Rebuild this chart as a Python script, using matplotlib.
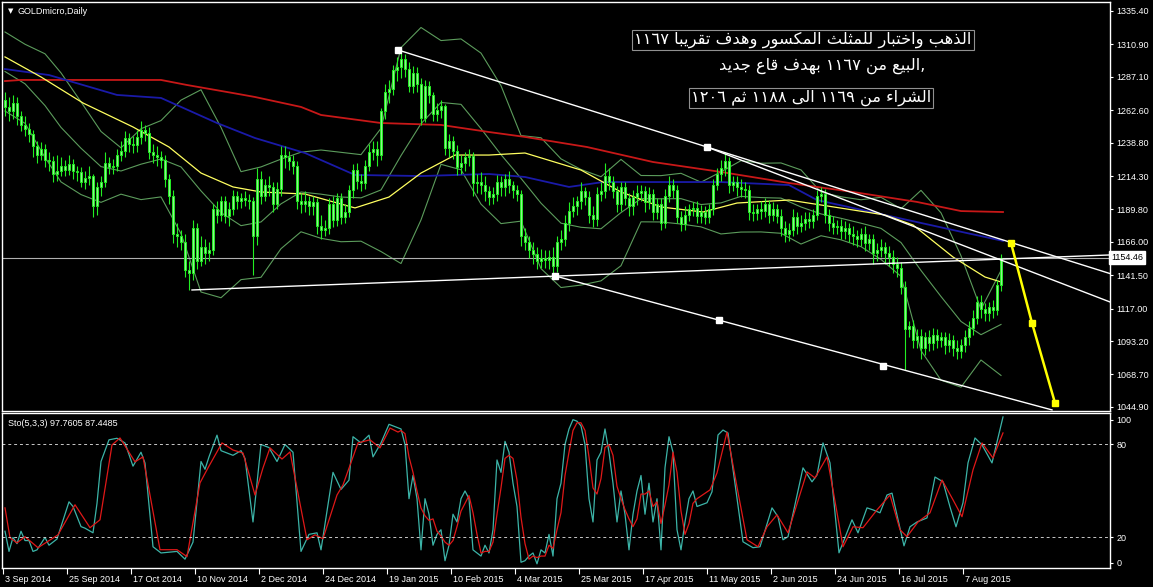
import numpy as np
import matplotlib.pyplot as plt

# %% data (bar index = trading day from 3 Sep 2014)
opens = [1270, 1265, 1262, 1268, 1258, 1252, 1249, 1245, 1236, 1230,
         1234, 1226, 1225, 1216, 1218, 1222, 1219, 1223, 1218, 1217,
         1210, 1213, 1214, 1192, 1206, 1210, 1224, 1221, 1222, 1230,
         1233, 1242, 1238, 1237, 1243, 1248, 1246, 1232, 1230, 1228,
         1226, 1212, 1200, 1172, 1170, 1166, 1145, 1143, 1176, 1152,
         1162, 1158, 1160, 1190, 1186, 1196, 1185, 1190, 1200, 1196,
         1198, 1197, 1196, 1170, 1212, 1200, 1208, 1206, 1194, 1205,
         1230, 1228, 1225, 1222, 1196, 1194, 1196, 1192, 1195, 1178,
         1175, 1176, 1194, 1182, 1198, 1184, 1188, 1204, 1219, 1211,
         1209, 1222, 1232, 1234, 1230, 1262, 1276, 1278, 1292, 1294,
         1300, 1293, 1280, 1290, 1282, 1257, 1280, 1274, 1260, 1263,
         1266, 1235, 1240, 1233, 1221, 1224, 1228, 1229, 1209, 1210,
         1208, 1203, 1199, 1201, 1210, 1206, 1212, 1208, 1204, 1201,
         1170, 1166, 1160, 1157, 1152, 1154, 1153, 1155, 1148, 1166,
         1168, 1180, 1189, 1192, 1196, 1203, 1199, 1186, 1183, 1201,
         1203, 1214, 1210, 1203, 1194, 1206, 1198, 1192, 1199, 1202,
         1203, 1195, 1201, 1188, 1194, 1180, 1200, 1208, 1204, 1184,
         1179, 1186, 1190, 1191, 1185, 1188, 1184, 1190, 1208, 1216,
         1220, 1225, 1208, 1210, 1206, 1205, 1204, 1188, 1187, 1190,
         1189, 1194, 1186, 1190, 1185, 1176, 1172, 1175, 1184, 1178,
         1180, 1183, 1181, 1186, 1200, 1201, 1186, 1180, 1177, 1178,
         1174, 1176, 1172, 1170, 1168, 1172, 1165, 1168, 1158, 1160,
         1162, 1158, 1155, 1150, 1147, 1133, 1102, 1104, 1094, 1097,
         1088, 1096, 1092, 1098, 1094, 1096, 1090, 1094, 1088, 1086,
         1090, 1096, 1103, 1110, 1122, 1117, 1114, 1118, 1116, 1134]
highs = [1276, 1272, 1274, 1272, 1262, 1258, 1253, 1248, 1240, 1239,
         1238, 1232, 1229, 1230, 1228, 1226, 1230, 1227, 1222, 1221,
         1218, 1222, 1216, 1210, 1214, 1232, 1228, 1227, 1234, 1240,
         1247, 1246, 1244, 1248, 1255, 1252, 1250, 1238, 1236, 1233,
         1230, 1216, 1204, 1180, 1175, 1172, 1152, 1182, 1180, 1170,
         1168, 1166, 1194, 1196, 1200, 1200, 1195, 1204, 1203, 1202,
         1203, 1201, 1199, 1220, 1218, 1212, 1214, 1210, 1210, 1236,
         1236, 1233, 1230, 1225, 1202, 1203, 1200, 1200, 1198, 1186,
         1182, 1198, 1200, 1202, 1202, 1194, 1208, 1223, 1224, 1216,
         1226, 1238, 1240, 1240, 1264, 1282, 1285, 1296, 1302, 1307,
         1304, 1298, 1295, 1294, 1286, 1285, 1284, 1276, 1268, 1270,
         1267, 1245, 1244, 1237, 1230, 1232, 1234, 1232, 1216, 1217,
         1214, 1207, 1206, 1215, 1214, 1216, 1218, 1211, 1208, 1204,
         1176, 1170, 1166, 1162, 1161, 1160, 1160, 1162, 1170, 1175,
         1186, 1195, 1199, 1200, 1210, 1206, 1203, 1192, 1206, 1210,
         1224, 1220, 1214, 1207, 1210, 1210, 1202, 1204, 1208, 1208,
         1207, 1206, 1205, 1198, 1198, 1205, 1214, 1212, 1208, 1189,
         1192, 1194, 1195, 1196, 1193, 1192, 1194, 1212, 1220, 1226,
         1232, 1228, 1214, 1214, 1212, 1210, 1208, 1194, 1194, 1196,
         1198, 1197, 1195, 1194, 1190, 1181, 1180, 1190, 1188, 1186,
         1188, 1188, 1190, 1204, 1206, 1205, 1190, 1185, 1182, 1183,
         1181, 1180, 1178, 1175, 1176, 1178, 1172, 1172, 1165, 1168,
         1166, 1163, 1160, 1155, 1151, 1137, 1108, 1109, 1102, 1102,
         1100, 1101, 1103, 1102, 1100, 1100, 1099, 1098, 1094, 1095,
         1101, 1108, 1116, 1126, 1127, 1121, 1122, 1123, 1138, 1157]
lows = [1258, 1255, 1256, 1252, 1247, 1244, 1239, 1228, 1224, 1226,
        1221, 1218, 1210, 1211, 1214, 1214, 1215, 1212, 1211, 1206,
        1205, 1208, 1184, 1186, 1200, 1206, 1216, 1216, 1218, 1225,
        1228, 1232, 1231, 1232, 1238, 1240, 1227, 1224, 1222, 1220,
        1206, 1194, 1165, 1162, 1160, 1140, 1131, 1138, 1146, 1148,
        1150, 1152, 1156, 1180, 1181, 1180, 1178, 1186, 1190, 1191,
        1192, 1190, 1142, 1164, 1194, 1196, 1200, 1188, 1190, 1200,
        1220, 1219, 1216, 1190, 1187, 1188, 1186, 1186, 1172, 1168,
        1170, 1172, 1177, 1178, 1179, 1180, 1184, 1198, 1205, 1203,
        1205, 1218, 1226, 1222, 1226, 1256, 1268, 1274, 1284, 1286,
        1287, 1276, 1275, 1276, 1252, 1254, 1268, 1255, 1255, 1257,
        1230, 1228, 1227, 1215, 1216, 1218, 1222, 1200, 1202, 1201,
        1196, 1193, 1194, 1196, 1200, 1200, 1202, 1198, 1196, 1163,
        1160, 1154, 1150, 1146, 1147, 1147, 1146, 1140, 1144, 1160,
        1163, 1174, 1184, 1186, 1190, 1193, 1180, 1177, 1178, 1196,
        1198, 1204, 1198, 1188, 1189, 1193, 1185, 1186, 1193, 1196,
        1188, 1190, 1182, 1183, 1175, 1176, 1195, 1198, 1180, 1174,
        1175, 1181, 1185, 1180, 1180, 1179, 1180, 1186, 1204, 1211,
        1214, 1202, 1203, 1200, 1199, 1198, 1182, 1181, 1182, 1183,
        1184, 1180, 1181, 1180, 1170, 1166, 1167, 1170, 1172, 1173,
        1175, 1176, 1176, 1182, 1195, 1180, 1174, 1172, 1172, 1168,
        1168, 1166, 1164, 1162, 1163, 1159, 1160, 1150, 1152, 1155,
        1150, 1148, 1143, 1140, 1128, 1072, 1096, 1088, 1088, 1080,
        1083, 1086, 1087, 1088, 1089, 1084, 1085, 1082, 1080, 1081,
        1085, 1090, 1098, 1106, 1110, 1108, 1108, 1110, 1112, 1130]
closes = [1265, 1262, 1268, 1258, 1252, 1249, 1245, 1236, 1230, 1234,
          1226, 1225, 1216, 1218, 1222, 1219, 1223, 1218, 1217, 1210,
          1213, 1214, 1192, 1206, 1210, 1224, 1221, 1222, 1230, 1233,
          1242, 1238, 1237, 1243, 1248, 1246, 1232, 1230, 1228, 1226,
          1212, 1200, 1172, 1170, 1166, 1145, 1143, 1176, 1152, 1162,
          1158, 1160, 1190, 1186, 1196, 1185, 1190, 1200, 1196, 1198,
          1197, 1196, 1170, 1212, 1200, 1208, 1206, 1194, 1205, 1230,
          1228, 1225, 1222, 1196, 1194, 1196, 1192, 1195, 1178, 1175,
          1176, 1194, 1182, 1198, 1184, 1188, 1204, 1219, 1211, 1209,
          1222, 1232, 1234, 1230, 1262, 1276, 1278, 1292, 1294, 1300,
          1293, 1280, 1290, 1282, 1257, 1280, 1274, 1260, 1263, 1266,
          1235, 1240, 1233, 1221, 1224, 1228, 1229, 1209, 1210, 1208,
          1203, 1199, 1201, 1210, 1206, 1212, 1208, 1204, 1201, 1170,
          1166, 1160, 1157, 1152, 1154, 1153, 1155, 1148, 1166, 1168,
          1180, 1189, 1192, 1196, 1203, 1199, 1186, 1183, 1201, 1203,
          1214, 1210, 1203, 1194, 1206, 1198, 1192, 1199, 1202, 1203,
          1195, 1201, 1188, 1194, 1180, 1200, 1208, 1204, 1184, 1179,
          1186, 1190, 1191, 1185, 1188, 1184, 1190, 1208, 1216, 1220,
          1225, 1208, 1210, 1206, 1205, 1204, 1188, 1187, 1190, 1189,
          1194, 1186, 1190, 1185, 1176, 1172, 1175, 1184, 1178, 1180,
          1183, 1181, 1186, 1200, 1201, 1186, 1180, 1177, 1178, 1174,
          1176, 1172, 1170, 1168, 1172, 1165, 1168, 1158, 1160, 1162,
          1158, 1155, 1150, 1147, 1133, 1102, 1104, 1094, 1097, 1088,
          1096, 1092, 1098, 1094, 1096, 1090, 1094, 1088, 1086, 1090,
          1096, 1103, 1110, 1122, 1117, 1114, 1118, 1116, 1134, 1154.46]

# moving averages, sampled as (bar, price)
ma_red_x = [0, 4, 39, 45.5, 57, 62.5, 74, 79, 94, 109, 121, 130, 145.5, 162, 179, 196, 212, 228, 239, 249.5]
ma_red_y = [1284.0, 1284.8, 1284.8, 1281.1, 1275.2, 1272.3, 1265.0, 1259.1, 1253.2, 1251.8,
            1246.6, 1243.0, 1235.6, 1224.6, 1217.3, 1209.2, 1202.6, 1195.3, 1188.6, 1187.9]
ma_blue_x = [0, 11, 28, 39, 53, 62.5, 75, 87.5, 104, 121, 130, 141, 149.5, 166, 179, 196, 203, 220, 237, 249.5]
ma_blue_y = [1292.8, 1288.4, 1273.8, 1271.6, 1253.2, 1242.2, 1231.2, 1215.1, 1214.3, 1215.8,
             1213.6, 1206.3, 1209.9, 1209.9, 1209.9, 1207.7, 1196.7, 1185.7, 1174.7, 1166.7]
ma_yel_x = [0, 9, 19.5, 32, 41, 49, 57, 64, 75, 87.5, 96, 104, 112.5, 121, 130, 144, 154, 164,
            174.5, 183, 196, 212, 220, 227, 237, 245, 249]
ma_yel_y = [1301.7, 1287.0, 1267.9, 1250.3, 1235.6, 1216.5, 1206.3, 1202.6, 1201.1, 1190.9,
            1198.9, 1216.5, 1229.7, 1229.7, 1231.2, 1218.7, 1202.6, 1191.6, 1187.9, 1194.5,
            1196.7, 1189.4, 1185.7, 1178.4, 1154.9, 1140.2, 1136.6]

# bollinger bands (20, 2), sampled every 5 bars
bb_x = [0, 5, 10, 14, 19, 24, 29, 34, 39, 44, 49, 54, 59, 64, 69, 74, 79, 84, 89, 94, 99, 104,
        109, 114, 119, 124, 129, 134, 139, 144, 149, 154, 159, 164, 169, 174, 179, 184, 189,
        194, 199, 204, 209, 214, 219, 224, 229, 234, 239, 244, 249]
bb_mid = [1291, 1282, 1266, 1250, 1234.7, 1221.2, 1218.0, 1223.0, 1226.8, 1221.0, 1203.4,
          1187.5, 1177.9, 1180.6, 1193.9, 1202.6, 1201.0, 1198.9, 1198.3, 1204.1, 1229.3,
          1252.7, 1268.3, 1266.9, 1249.1, 1230.0, 1212.6, 1194.4, 1179.7, 1176.7, 1175.6,
          1187.5, 1197.7, 1197.6, 1197.7, 1193.4, 1194.6, 1199.4, 1198.5, 1198.1, 1191.6,
          1186.5, 1183.3, 1179.7, 1175.9, 1165.5, 1145.0, 1125.9, 1107.6, 1097.9, 1105.4]
bb_up = [1320, 1311, 1304, 1290, 1268.7, 1247, 1235, 1249, 1255, 1270, 1277.6, 1250, 1217.5,
         1221, 1226.7, 1231.8, 1233.4, 1231.7, 1230, 1249.3, 1308.5, 1323.3, 1313.7, 1314.9,
         1304.5, 1280.6, 1244, 1242.4, 1226.9, 1219.1, 1213.8, 1226.5, 1214.7, 1214.6, 1216.3,
         1209.8, 1217.4, 1225.6, 1223.7, 1223.9, 1218.8, 1202.5, 1199.1, 1196.9, 1198.7,
         1190.3, 1203.8, 1187.3, 1155.8, 1116.5, 1145.0]
bb_lo = [1262, 1253, 1228, 1210, 1200.7, 1195, 1201, 1197, 1199, 1172, 1129.2, 1125, 1138.3,
         1140, 1161, 1173.4, 1168.6, 1166.1, 1166.5, 1158.9, 1150.1, 1182.1, 1222.9, 1218.9,
         1193.7, 1179.4, 1181.2, 1146.4, 1132.5, 1134.3, 1137.4, 1148.5, 1180.7, 1180.6,
         1179.1, 1177, 1171.8, 1173.2, 1173.3, 1172.3, 1164.4, 1170.5, 1167.5, 1162.5, 1153.1,
         1140.7, 1086.2, 1064.5, 1059.4, 1079.3, 1068.0]

# stochastic (5,3,3), sampled as (bar, value)
sto_k_x = ([0, 1, 2, 3, 4, 5, 6, 7, 8, 10, 11, 13, 16, 17, 19, 20, 22, 23, 24, 26, 28, 30, 32,
            34, 35, 37, 39, 43, 45, 47, 49, 50, 51, 53, 54, 57, 59, 60, 62, 63, 64, 66, 68, 70,
            72, 74, 76, 78, 79, 82, 84, 86, 87, 89, 91, 92, 94, 96, 98]
           + list(range(99, 174))
           + [175.5, 176.75, 178.25, 179.5, 180.75, 184.5, 187, 188.75, 191.75, 193.25, 194.5,
              195.75, 199.5, 201.75, 203, 204.5, 206.25, 208.5, 211.75, 213.25, 215.5, 217,
              218.75, 220.5, 221.75, 224.75, 226.25, 228, 230.5, 232.5, 234.5, 236.25, 237.75,
              239.5, 240.75, 242.5, 244.25, 246.75, 249.5])
sto_k_y = [24, 11, 20, 16, 24, 18, 18, 11, 12, 20, 15, 19, 43, 40, 27, 26, 23, 42, 69, 83, 84, 81,
           66, 75, 68, 14, 10, 11, 6, 17, 69, 64, 72, 86, 76, 73, 76, 71, 30, 55, 80, 78, 69, 80,
           75, 11, 22, 23, 12, 62, 51, 57, 85, 81, 86, 72, 81, 93, 91,
           90, 80, 45, 60, 45, 12, 45, 35, 15, 22, 25, 5, 15, 35, 30, 45, 50, 45, 12, 10,
           8, 15, 10, 25, 70, 62, 82, 75, 55, 40, 4, 5, 8, 10, 3, 12, 10, 22, 8, 45,
           55, 80, 90, 96, 95, 92, 80, 45, 30, 70, 75, 90, 75, 55, 30, 50, 35, 12, 35, 50,
           60, 35, 55, 30, 45, 12, 65, 85, 75, 25, 12, 30, 45, 50, 40,
           42.4, 49.5, 86.1, 89.3, 87.4, 17.2, 13.4, 14, 39.1, 33.4, 18.5, 20.5, 64.9, 55.9,
           60.3, 81, 68.1, 10.1, 31.4, 23, 39.1, 37.8, 35.9, 47.4, 48.6, 14.6, 26.9, 30, 32.6,
           59, 55.9, 39.7, 26.9, 42.4, 68.1, 84.2, 79.7, 68.1, 97.76]
sto_d_x = ([0, 1.25, 3, 5, 8.25, 13.25, 17.5, 21.25, 23.75, 26.75, 28.75, 32.5, 34.5, 38.75, 43,
            45.5, 48.75, 50.75, 54.25, 57, 59.5, 62.5, 64.5, 66.25, 69.25, 71.25, 75.5, 77.5,
            79.5, 83, 84.5, 88.25, 91.25, 93.75, 96.25, 98.25]
           + list(range(99, 174))
           + [176.25, 178, 180.5, 183, 185.5, 188.25, 190.5, 193, 195.75, 200.5, 202.5,
              205.5, 207, 209.5, 212, 214.5, 218, 221.25, 223.75, 225.5, 228.25, 231.25, 234.25,
              237, 239.25, 242, 244.25, 247, 249.5])
sto_d_y = [39.1, 19.8, 16.5, 20.5, 13.4, 21.7, 41.1, 26.3, 31.4, 79.7, 84.2, 68.8, 72, 12.1, 12.1,
           7.6, 55.2, 64.9, 81, 76.4, 74.5, 47.4, 64.9, 77.8, 70.6, 75.2, 18.5, 21.7, 19.2, 47.4,
           53.9, 81, 83, 77.8, 90.6, 88,
           89, 87, 72, 62, 50, 39, 34, 31, 32, 24, 21, 17, 15, 18, 27, 37, 42, 47, 36, 22,
           10, 11, 11, 17, 35, 52, 71, 73, 71, 57, 33, 16, 6, 8, 7, 8, 8, 15, 13, 25,
           36, 60, 75, 89, 94, 94, 89, 72, 52, 48, 58, 78, 80, 73, 53, 45, 38, 32, 27, 32,
           48, 48, 50, 40, 43, 29, 41, 54, 75, 62, 37, 22, 29, 42, 45,
           50.7, 61.6, 88, 52.6, 18.5, 14, 26.9, 34.6, 23, 62.3, 58.4, 72, 50.7, 14, 26.9,
           26.3, 37.8, 47.4, 25, 20.5, 30, 35.9, 57.1, 44.3, 33.4, 63.6, 81, 71.3, 87.45]

# drawn objects: (bar, price)
line_a = [(98.25, 1306.8), (175.5, 1235.6)]
line_b = [(175.5, 1235.6), (276.25, 1121.9)]
line_c = [(137.5, 1141.0), (261.75, 1042.7)]
line_d = [(46.75, 1130.7), (276.25, 1156.4)]
squares = [(98.25, 1306.8), (175.5, 1235.6), (137.5, 1141.0), (178.5, 1108.7), (219.5, 1075.0)]
proj_x = [251.5, 256.75, 262.5]
proj_y = [1165.2, 1106.5, 1047.8]
bid = 1154.46

price_ticks = [1335.40, 1310.90, 1287.10, 1262.60, 1238.80, 1214.30, 1189.80, 1166.00,
               1141.50, 1117.00, 1093.20, 1068.70, 1044.90]
date_labels = ['3 Sep 2014', '25 Sep 2014', '17 Oct 2014', '10 Nov 2014', '2 Dec 2014',
               '24 Dec 2014', '19 Jan 2015', '10 Feb 2015', '4 Mar 2015', '25 Mar 2015',
               '17 Apr 2015', '11 May 2015', '2 Jun 2015', '24 Jun 2015', '16 Jul 2015',
               '7 Aug 2015']
notes = ['الذهب واختبار للمثلث المكسور وهدف تقريبا ١١٦٧',
         'البيع من ١١٦٧ بهدف قاع جديد',
         'الشراء من ١١٦٩ الى ١١٨٨ ثم ١٢٠٦']

# %% arabic shaping (matplotlib has no bidi / joining)
ISO = {'ء': 0xFE80, 'ا': 0xFE8D, 'ب': 0xFE8F, 'ت': 0xFE95, 'ث': 0xFE99, 'ج': 0xFE9D,
       'خ': 0xFEA5, 'د': 0xFEA9, 'ذ': 0xFEAB, 'ر': 0xFEAD, 'س': 0xFEB1, 'ش': 0xFEB5,
       'ع': 0xFEC9, 'ف': 0xFED1, 'ق': 0xFED5, 'ك': 0xFED9, 'ل': 0xFEDD, 'م': 0xFEE1,
       'ن': 0xFEE5, 'ه': 0xFEE9, 'و': 0xFEED, 'ى': 0xFEEF, 'ي': 0xFEF1}
RIGHT = set('ادذرزوى')


def shape(word):
    out = []
    for k, ch in enumerate(word):
        if ch not in ISO:
            out.append(ch)
            continue
        prev = word[k-1] if k > 0 else ''
        nxt = word[k+1] if k + 1 < len(word) else ''
        jp = ch != 'ء' and prev in ISO and prev not in RIGHT and prev != 'ء'
        jn = ch != 'ء' and ch not in RIGHT and nxt in ISO and nxt != 'ء'
        base = ISO[ch]
        out.append(chr(base + (3 if jp and jn else 1 if jp else 2 if jn else 0)))
    return ''.join(out)


def rtl(text):
    vis = []
    for w in text.split(' '):
        vis.append(w if w[0] in '٠١٢٣٤٥٦٧٨٩' else shape(w)[::-1])
    return ' '.join(vis[::-1])


# %% figure
W, H = 1153, 587
fig = plt.figure(figsize=(W / 100, H / 100), dpi=100, facecolor='black')
plt.rcParams['font.family'] = ['Liberation Sans', 'DejaVu Sans']


def box(x0, y0, x1, y1):
    return [x0 / W, 1 - y1 / H, (x1 - x0) / W, (y1 - y0) / H]


ax = fig.add_axes(box(2, 2, 1110, 411), facecolor='black')
ax2 = fig.add_axes(box(2, 413, 1110, 568), facecolor='black', sharex=ax)
xmin, xmax = -0.75, 276.25
ax.set_xlim(xmin, xmax)
ax.set_ylim(1041.9, 1342.0)
ax2.set_ylim(0.3, 100.3)

for a in (ax, ax2):
    for s in a.spines.values():
        s.set_color('white')
        s.set_linewidth(1)

# indicators
for band in (bb_up, bb_mid, bb_lo):
    ax.plot(bb_x, band, color='#5c9c5c', lw=0.8)
ax.plot(ma_red_x, ma_red_y, color='#c81818', lw=1.3)
ax.plot(ma_blue_x, ma_blue_y, color='#1a1aa8', lw=1.3)
ax.plot(ma_yel_x, ma_yel_y, color='#ffff60', lw=0.9)

# candles
idx = np.arange(len(closes))
o, h, l, c = map(np.array, (opens, highs, lows, closes))
ax.vlines(idx, l, h, color='#22ee22', lw=0.8, zorder=3)
body_lo = np.minimum(o, c)
body_h = np.maximum(np.abs(c - o), 0.4)
ax.bar(idx, body_h, bottom=body_lo, width=0.62, facecolor='#90f090',
       edgecolor='#22ee22', lw=0.7, zorder=4)

# bid line and trendlines
ax.axhline(bid, color='#b0b0b0', lw=0.8, zorder=2)
for ln in (line_a, line_c, line_d, line_b):
    (x0, y0), (x1, y1) = ln
    if ln is line_a:
        y1 = y0 + (y1 - y0) * (xmax - x0) / (x1 - x0)
        x1 = xmax
    ax.plot([x0, x1], [y0, y1], color='white', lw=1.0, zorder=5)
ax.plot(*zip(*squares), ls='none', marker='s', ms=4, color='white', zorder=6)
ax.plot(proj_x, proj_y, color='#ffff00', lw=1.8, marker='s', ms=5, zorder=6)

# right price axis
ax.yaxis.tick_right()
ax.set_yticks(price_ticks)
ax.set_yticklabels(['%.2f' % p for p in price_ticks])
ax.tick_params(axis='y', colors='white', labelcolor='white', labelsize=6.5, length=2.5, pad=2)
ax.tick_params(axis='x', bottom=False, labelbottom=False)
ax.text(1.001, bid, '%.2f' % bid, transform=ax.get_yaxis_transform(), fontsize=6.5,
        color='black', va='center', ha='left',
        bbox=dict(boxstyle='square,pad=0.2', facecolor='white', edgecolor='white'))

# stochastic panel
ax2.plot(sto_k_x, sto_k_y, color='#3cb4a8', lw=0.9)
ax2.plot(sto_d_x, sto_d_y, color='#e01818', lw=0.9)
for lev in (80, 20):
    ax2.axhline(lev, color='#c8c8c8', lw=0.7, ls=(0, (3, 3)))
ax2.yaxis.tick_right()
ax2.set_yticks([95.8, 80, 20, 3.7])
ax2.set_yticklabels(['100', '80', '20', '0'])
ax2.tick_params(axis='y', colors='white', labelcolor='white', labelsize=6.5, length=2.5, pad=2)
tick_pos = [16 * k - 0.5 for k in range(len(date_labels))]
ax2.set_xticks(tick_pos)
ax2.set_xticklabels([])
ax2.tick_params(axis='x', colors='white', length=4, direction='out')
for tp, lab in zip(tick_pos, date_labels):
    ax2.text(tp + 0.4, -0.045, lab, transform=ax2.get_xaxis_transform(), fontsize=6.5,
             color='white', ha='left', va='top')
ax2.text(0.005, 0.93, 'Sto(5,3,3) 97.7605 87.4485', transform=ax2.transAxes, fontsize=6.5,
         color='white', ha='left', va='center')

# titles
fig.text(8 / W, 1 - 11 / H, '▼', fontsize=5, color='white', va='center', ha='left',
         family='DejaVu Sans')
fig.text(18 / W, 1 - 11 / H, 'GOLDmicro,Daily', fontsize=6.5, color='white', va='center',
         ha='left')

# arabic notes
txt_kw = dict(color='white', fontsize=11.7, family='DejaVu Sans', ha='center', va='center')
fig.text(803 / W, 1 - 40 / H, rtl(notes[0]), **txt_kw,
         bbox=dict(boxstyle='square,pad=0.12', facecolor='black', edgecolor='#909090', lw=0.8))
fig.text(822 / W, 1 - 66 / H, rtl(notes[1]) + ',', **txt_kw)
fig.text(811 / W, 1 - 98 / H, rtl(notes[2]), **txt_kw,
         bbox=dict(boxstyle='square,pad=0.12', facecolor='black', edgecolor='#909090', lw=0.8))

fig.savefig('out.png', dpi=100, facecolor='black')
